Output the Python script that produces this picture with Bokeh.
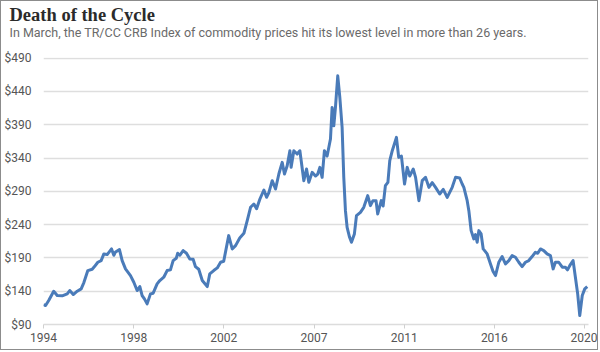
from bokeh.plotting import figure
from bokeh.models import Range1d, FixedTicker, Title, ColumnDataSource
from bokeh.embed import file_html
from bokeh.resources import INLINE

# TR/CC CRB Index, decimal year vs price ($)
years = [1994.00, 1994.10, 1994.25, 1994.49, 1994.66, 1994.90, 1995.14, 1995.26, 1995.43, 1995.62,
         1995.81, 1995.94, 1996.13, 1996.34, 1996.45, 1996.61, 1996.77, 1996.90, 1997.06, 1997.27,
         1997.38, 1997.46, 1997.65, 1997.78, 1997.94, 1998.18, 1998.34, 1998.50, 1998.63, 1998.74,
         1998.85, 1998.98, 1999.14, 1999.27, 1999.46, 1999.59, 1999.78, 1999.94, 2000.10, 2000.23,
         2000.38, 2000.45, 2000.55, 2000.71, 2000.87, 2001.03, 2001.19, 2001.30, 2001.46, 2001.63,
         2001.87, 2001.99, 2002.18, 2002.35, 2002.51, 2002.66, 2002.90, 2003.07, 2003.23, 2003.43,
         2003.63, 2003.79, 2003.95, 2004.11, 2004.24, 2004.40, 2004.59, 2004.72, 2004.83, 2004.99,
         2005.15, 2005.31, 2005.47, 2005.58, 2005.71, 2005.84, 2005.90, 2006.03, 2006.19, 2006.32,
         2006.51, 2006.64, 2006.75, 2006.91, 2007.07, 2007.18, 2007.28, 2007.39, 2007.50, 2007.63,
         2007.79, 2007.87, 2007.95, 2008.03, 2008.14, 2008.24, 2008.35, 2008.43, 2008.51, 2008.59,
         2008.70, 2008.80, 2008.94, 2009.04, 2009.23, 2009.39, 2009.58, 2009.71, 2009.83, 2009.98,
         2010.06, 2010.23, 2010.32, 2010.43, 2010.55, 2010.64, 2010.76, 2010.96, 2011.07, 2011.20,
         2011.35, 2011.48, 2011.60, 2011.77, 2011.88, 2012.04, 2012.20, 2012.36, 2012.52, 2012.68,
         2012.84, 2013.04, 2013.21, 2013.40, 2013.64, 2013.80, 2014.00, 2014.12, 2014.20, 2014.36,
         2014.44, 2014.55, 2014.68, 2014.76, 2014.84, 2014.92, 2015.03, 2015.13, 2015.32, 2015.48,
         2015.60, 2015.72, 2015.88, 2016.04, 2016.20, 2016.36, 2016.52, 2016.68, 2016.84, 2017.00,
         2017.16, 2017.32, 2017.48, 2017.64, 2017.75, 2017.88, 2018.04, 2018.20, 2018.36, 2018.49,
         2018.60, 2018.76, 2018.93, 2019.08, 2019.18, 2019.32, 2019.45, 2019.56, 2019.67, 2019.77,
         2019.89, 2020.01, 2020.13]
prices = [120, 118.5, 126, 140, 133.5, 133, 136, 141, 135, 140,
          143.5, 153, 171, 173, 177, 183.5, 186, 196, 195, 203.5,
          194, 199, 202.5, 186, 173.5, 163.5, 153.5, 141, 147, 133.5,
          128.5, 121, 136, 137, 151, 156, 161, 171, 172, 186,
          189.5, 197, 194, 201, 197, 188.5, 188, 177, 173, 156,
          147, 166, 171, 175, 183.5, 185, 223.5, 203.5, 208.5, 220,
          227, 246, 266, 271, 264, 278.5, 292, 281, 288, 306,
          293.5, 316, 333.5, 316, 328.5, 351, 326, 351, 346, 351,
          306, 323.5, 303.5, 318.5, 313, 316, 326, 311, 351, 343,
          368.5, 416, 388.5, 416, 463.5, 431, 386, 311, 261, 236,
          222, 213.5, 226, 253.5, 258.5, 266, 283.5, 268.5, 276, 276,
          256, 276, 268, 298.5, 303.5, 336, 351, 371, 341, 343,
          301, 326, 313, 323.5, 311, 276, 306, 311, 296, 303,
          296, 286, 293, 281, 296, 311, 310, 301, 296, 276,
          261, 231, 218.5, 225, 213.5, 231, 226, 203.5, 196, 181,
          170, 163.5, 183.5, 192, 181, 186, 193.5, 191, 183.5, 177,
          183.5, 186, 192, 198.5, 197, 203.5, 201, 196, 193.5, 173.5,
          183.5, 183.5, 176, 176, 172, 180, 186, 161, 136, 103.5,
          133.5, 143.5, 147]

y_ticks = [90, 140, 190, 240, 290, 340, 390, 440, 490]
x_tick_labels = ["1994", "1998", "2002", "2007", "2011", "2016", "2020"]
x_ticks = [1994 + k * 26 / 6 for k in range(len(x_tick_labels))]

TITLE = "Death of the Cycle"
SUBTITLE = "In March, the TR/CC CRB Index of commodity prices hit its lowest level in more than 26 years."

src = ColumnDataSource(data=dict(x=years, y=prices))

p = figure(width=598, height=350, output_backend="svg", toolbar_location=None,
           x_range=Range1d(1994, 2020.19), y_range=Range1d(90, 491),
           min_border_left=42, min_border_right=11, min_border_top=56, min_border_bottom=27,
           title=None)
p.styles = {"border": "1px solid #8c8c8c"}
p.outline_line_color = None
p.background_fill_color = "white"
p.border_fill_color = "white"

p.add_layout(Title(text=SUBTITLE, text_font="Roboto", text_font_style="normal",
                   text_font_size="12.5px", text_color="#6a6a6a", align="left",
                   offset=-34, standoff=36), "above")
p.add_layout(Title(text=TITLE, text_font="Liberation Serif", text_font_style="bold",
                   text_font_size="18.5px", text_color="#2b2b2b", align="left",
                   offset=-34, standoff=-40), "above")

p.line("x", "y", source=src, line_color="#4a7bb9", line_width=3, line_join="round")

p.xaxis.ticker = FixedTicker(ticks=x_ticks)
p.xaxis.major_label_overrides = {t: lab for t, lab in zip(x_ticks, x_tick_labels)}
p.xaxis.axis_line_color = "#dcdcdc"
p.xaxis.axis_line_width = 1.5
p.xaxis.major_tick_line_color = "#d0d0d0"
p.xaxis.major_tick_in = 0
p.xaxis.major_tick_out = 4
p.xaxis.minor_tick_line_color = None
p.xaxis.major_label_text_font = "Roboto"
p.xaxis.major_label_text_font_size = "12px"
p.xaxis.major_label_text_color = "#555555"
p.xaxis.major_label_standoff = 4
p.xgrid.grid_line_color = None

p.yaxis.ticker = FixedTicker(ticks=y_ticks)
p.yaxis.major_label_overrides = {t: "$" + str(t) for t in y_ticks}
p.yaxis.axis_line_color = None
p.yaxis.major_tick_line_color = None
p.yaxis.minor_tick_line_color = None
p.yaxis.major_label_text_font = "Roboto"
p.yaxis.major_label_text_font_size = "12px"
p.yaxis.major_label_text_color = "#555555"
p.yaxis.major_label_standoff = 6
p.ygrid.grid_line_color = "#dedede"
p.ygrid.grid_line_width = 1.5

open("out.html", "w").write(file_html(p, INLINE))
